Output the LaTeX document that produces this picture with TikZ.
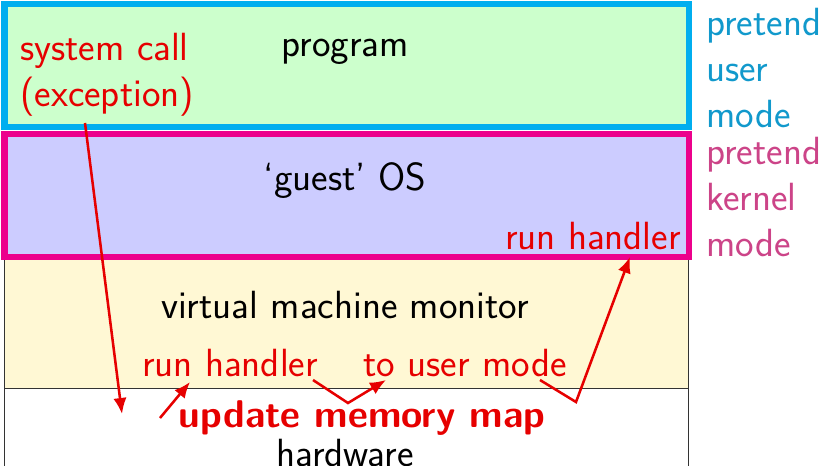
\documentclass[tikz,border=0pt]{standalone}
\usepackage{fontspec}
\usepackage{xcolor}
\usetikzlibrary{arrows.meta}
\definecolor{usercyan}{HTML}{00AEEF}
\definecolor{kernelpink}{HTML}{EC008C}
\definecolor{greenfill}{HTML}{CCFFCC}
\definecolor{bluefill}{HTML}{CCCCFF}
\definecolor{yellowfill}{HTML}{FFF8D4}
\definecolor{cyantext}{HTML}{1199CC}
\definecolor{pinktext}{HTML}{CC4488}
\definecolor{callred}{HTML}{E60000}

\begin{document}
\begin{tikzpicture}[x=0.75pt,y=-0.75pt,
    every node/.style={font=\sffamily\fontsize{29.5}{34.5}\selectfont, inner sep=0pt},
    redlabel/.style={text=callred},
    redarrow/.style={draw=callred, line width=1.9pt, -{Latex[length=12pt,width=10pt]}}]
  \useasboundingbox (0,0) rectangle (821,465);
  % layers
  \fill[yellowfill] (4,258) rectangle (688,388);
  \draw[black!80, line width=0.6pt] (4,470) -- (4,258) (688,258) -- (688,470) (4,388) -- (688,388);
  \filldraw[fill=greenfill, draw=usercyan, line width=5pt] (4.5,4) rectangle (689,127);
  \filldraw[fill=bluefill, draw=kernelpink, line width=5pt] (4.5,134) rectangle (689,257);

  \node (program) at (345,52) {program};
  \node[redlabel, align=left, anchor=west] (syscall) at (20,75) {system call\\(exception)};
  \node (guest) at (345,181) {`guest' OS};
  \node[redlabel, anchor=east] (guesthandler) at (681,236) {run handler};
  \node (vmm) at (345,305) {virtual machine monitor};
  \node[redlabel] (vmmhandler) at (230,363) {run handler};
  \node[redlabel] (tousermode) at (465,363) {to user mode};
  \node[redlabel, font=\sffamily\bfseries\fontsize{29}{34.5}\selectfont] (updatemap) at (362,418) {update memory map};
  \node (hardware) at (345,453) {hardware};
  \node[text=cyantext, align=left, anchor=west] (usermode) at (706,68) {pretend\\user\\mode};
  \node[text=pinktext, align=left, anchor=west] (kernelmode) at (706,197) {pretend\\kernel\\mode};

  % arrows
  \coordinate (trapstart) at (85,123);
  \coordinate (trapend) at (122,414);
  \coordinate (mapstart) at (160,418);
  \coordinate (handlertip) at (190,382);
  \coordinate (retstart) at (313,380);
  \coordinate (retbend) at (348,403);
  \coordinate (rettip) at (386,380);
  \coordinate (userstart) at (540,380);
  \coordinate (userbend) at (576,402);
  \coordinate (guesttip) at (630,257);
  \draw[redarrow] (trapstart) -- (trapend);
  \draw[redarrow] (mapstart) -- (handlertip);
  \draw[redarrow] (retstart) -- (retbend) -- (rettip);
  \draw[redarrow] (userstart) -- (userbend) -- (guesttip);
\end{tikzpicture}
\end{document}
